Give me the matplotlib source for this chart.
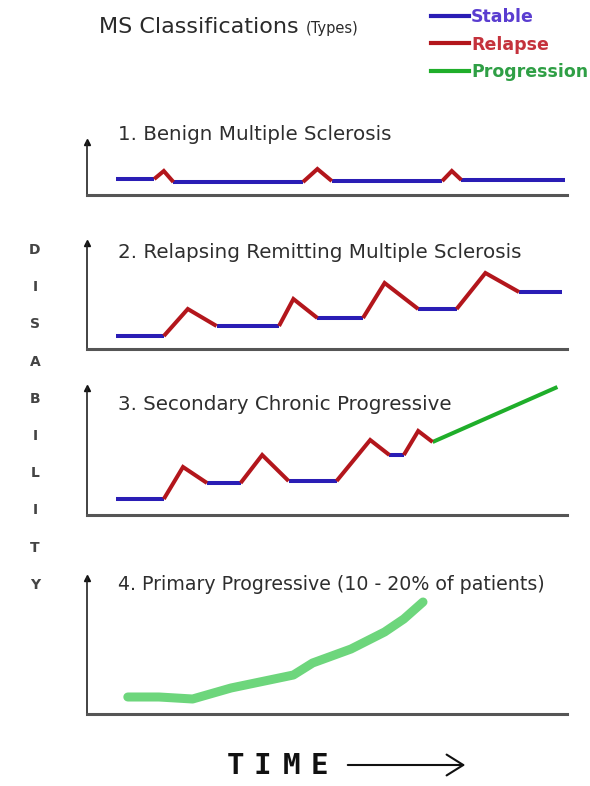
import matplotlib.pyplot as plt
from matplotlib.lines import Line2D

# time 0-100 along each panel, disability in panel units
benign_t = [6, 14, 16, 18, 45, 48, 51, 74, 76, 78, 99.5]
benign_d = [1.6, 1.6, 2.4, 1.3, 1.3, 2.6, 1.4, 1.4, 2.4, 1.5, 1.5]
benign_phase = ['S', 'R', 'R', 'S', 'R', 'R', 'S', 'R', 'R', 'S']

rrms_t = [6, 16, 21, 27, 40, 43, 48, 57.5, 62, 69, 77, 83, 90, 99]
rrms_d = [1.3, 1.3, 4.0, 2.3, 2.3, 5.0, 3.1, 3.1, 6.6, 4.0, 4.0, 7.6, 5.7, 5.7]
rrms_phase = ['S', 'R', 'R', 'S', 'R', 'R', 'S', 'R', 'R', 'S', 'R', 'R', 'S']

spms_t = [6, 16, 20, 25, 32, 36.5, 42, 52, 59, 63, 66, 69, 72, 98]
spms_d = [1.6, 1.6, 4.8, 3.2, 3.2, 6.0, 3.4, 3.4, 7.5, 6.0, 6.0, 8.4, 7.3, 12.8]
spms_phase = ['S', 'R', 'R', 'S', 'R', 'R', 'S', 'R', 'R', 'S', 'R', 'R', 'P']

ppms_t = [8.5, 15, 22, 30, 39, 43, 47, 55, 62, 66, 70]
ppms_d = [1.7, 1.7, 1.5, 2.6, 3.5, 3.9, 5.1, 6.5, 8.2, 9.5, 11.2]

titles = ['1. Benign Multiple Sclerosis',
          '2. Relapsing Remitting Multiple Sclerosis',
          '3. Secondary Chronic Progressive',
          '4. Primary Progressive (10 - 20% of patients)']
y_tops = [5.3, 10.6, 12.7, 13.6]

colors = {'S': '#2a1db5', 'R': '#b3161c', 'P': '#1fae2a'}
legend_labels = ['Stable', 'Relapse', 'Progression']
legend_text_colors = ['#5a3dd0', '#c4323c', '#2f9f45']

W, H = 590, 786
fig = plt.figure(figsize=(5.9, 7.86), dpi=100)
fig.patch.set_facecolor('white')

# panel boxes in pixels: (bottom, top)
boxes = [(195, 142), (349, 243), (515, 388), (714, 578)]
title_y = [135, 252, 405, 585]
title_size = [14.3, 14.3, 14.3, 13.7]
axes = []
for (bot, top), ytop in zip(boxes, y_tops):
    ax = fig.add_axes([87 / W, 1 - bot / H, 480 / W, (bot - top) / H])
    ax.set_xlim(0, 100)
    ax.set_ylim(0, ytop)
    for s in ['top', 'right']:
        ax.spines[s].set_visible(False)
    ax.spines['bottom'].set_color('#555555')
    ax.spines['bottom'].set_linewidth(2.2)
    ax.spines['left'].set_color('#222222')
    ax.spines['left'].set_linewidth(1.2)
    ax.set_xticks([])
    ax.set_yticks([])
    ax.patch.set_alpha(0)
    ax.plot(0, 1, marker='^', color='#111111', markersize=4,
            transform=ax.transAxes, clip_on=False)
    axes.append(ax)


def draw_phases(ax, t, d, phase):
    # group consecutive segments of the same phase into one polyline
    start = 0
    for i in range(1, len(phase) + 1):
        if i == len(phase) or phase[i] != phase[start]:
            ax.plot(t[start:i + 1], d[start:i + 1], color=colors[phase[start]],
                    lw=2.9, solid_capstyle='butt', solid_joinstyle='miter',
                    clip_on=False, zorder=3 if phase[start] == 'R' else 2)
            start = i


draw_phases(axes[0], benign_t, benign_d, benign_phase)
draw_phases(axes[1], rrms_t, rrms_d, rrms_phase)
draw_phases(axes[2], spms_t, spms_d, spms_phase)
axes[3].plot(ppms_t, ppms_d, color='#6dd67c', lw=6.5, solid_capstyle='round',
             solid_joinstyle='round', clip_on=False)

for title, ty, fs in zip(titles, title_y, title_size):
    fig.text(118 / W, 1 - ty / H, title, fontsize=fs, color='#2e2e2e',
             va='center', ha='left')

# header
fig.text(99 / W, 1 - 27 / H, 'MS Classifications', fontsize=16,
         color='#2a2a2a', va='center')
fig.text(306 / W, 1 - 29 / H, '(Types)', fontsize=10.5, color='#2a2a2a',
         va='center')

handles = [Line2D([], [], color=colors[k], lw=3) for k in ['S', 'R', 'P']]
fig.legend(handles, legend_labels, loc='upper left',
           bbox_to_anchor=(431 / W, 1 - 8 / H), frameon=False,
           labelcolor=legend_text_colors,
           prop={'size': 12.5, 'weight': 'bold'},
           handlelength=2.2, handletextpad=0.1, labelspacing=0.55,
           borderpad=0, borderaxespad=0)

# vertical DISABILITY label
for i, ch in enumerate('DISABILITY'):
    fig.text(35 / W, 1 - (250 + i * 37.2) / H, ch, fontsize=10,
             fontweight='bold', color='#444444', ha='center', va='center')

# TIME with arrow
for ch, cx in zip('TIME', [235, 262, 292, 319]):
    fig.text(cx / W, 1 - 766 / H, ch, fontsize=21, family='DejaVu Sans Mono',
             fontweight='bold', color='#111111', ha='center', va='center')
axes[3].annotate('', xy=(468 / W, 1 - 765 / H), xytext=(345 / W, 1 - 765 / H),
                 xycoords='figure fraction', textcoords='figure fraction',
                 arrowprops=dict(arrowstyle='->,head_length=1.2,head_width=0.75',
                                 lw=1.5, color='#111111'))

fig.savefig('out.png', dpi=100)
